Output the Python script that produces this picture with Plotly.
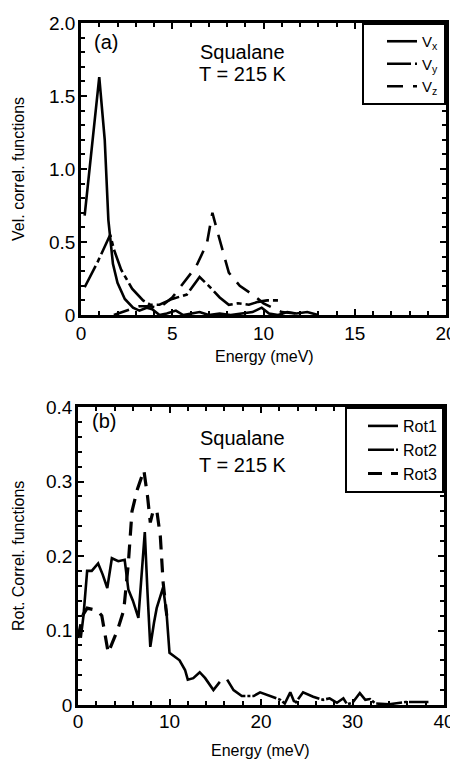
import plotly.graph_objects as go

# (a) velocity correlation functions, energy in meV
VX_E = [0.2, 0.6, 1.0, 1.3, 1.5, 1.75, 2.0, 2.4, 2.85, 3.2, 3.6, 3.9, 4.3, 4.7, 5.2, 5.6, 6.0, 6.5, 7.0,
        7.6, 8.2, 8.8, 9.4, 9.9, 10.3, 10.8, 11.3, 11.8, 12.4, 13.0]
VX = [0.68, 1.15, 1.63, 1.2, 0.65, 0.35, 0.22, 0.11, 0.05, 0.03, 0.05, 0.04, 0.0, 0.01, 0.03, 0.0, 0.01,
      0.02, 0.0, 0.01, 0.0, 0.01, 0.02, 0.05, 0.01, 0.0, 0.02, 0.01, 0.02, 0.0]
VY_E = [0.2, 0.9, 1.6, 1.8, 2.2, 2.8, 3.4, 3.8, 4.3, 5.0, 5.8, 6.5, 7.0, 7.6, 8.1, 8.6, 9.2, 9.7, 10.2, 10.8]
VY = [0.19, 0.36, 0.55, 0.45, 0.31, 0.18, 0.10, 0.07, 0.07, 0.11, 0.14, 0.26, 0.20, 0.12, 0.07, 0.08,
      0.07, 0.09, 0.10, 0.10]
VZ_E = [1.8, 2.5, 3.2, 3.7, 4.3, 5.0, 5.7, 6.3, 6.9, 7.2, 7.5, 8.1, 8.7, 9.4, 10.0, 10.5, 11.0, 11.8]
VZ = [0.0, 0.03, 0.06, 0.06, 0.05, 0.12, 0.23, 0.33, 0.49, 0.70, 0.56, 0.29, 0.20, 0.14, 0.08, 0.05, 0.02, 0.01]

# (b) rotational correlation functions
ROT1_E = [0.3, 0.6, 1.0, 1.5, 2.2, 2.7, 3.2, 3.7, 4.4, 5.1, 5.5, 6.0, 6.6, 7.0, 7.3, 7.6, 7.9, 8.3, 8.6,
          9.3, 9.7, 10.0, 10.6, 11.1, 11.7, 12.0, 12.6, 13.3, 13.9, 14.8, 15.5]
ROT1 = [0.09, 0.12, 0.18, 0.18, 0.19, 0.175, 0.157, 0.197, 0.193, 0.195, 0.155, 0.14, 0.117, 0.18, 0.232,
        0.15, 0.078, 0.11, 0.13, 0.158, 0.12, 0.07, 0.064, 0.06, 0.047, 0.034, 0.036, 0.044, 0.036, 0.02, 0.031]
ROT2_E = [16.3, 17.0, 17.9, 18.5, 19.2, 19.9, 21.0, 22.1, 22.6, 23.2, 23.7, 24.6, 25.7, 26.8, 27.5, 28.3,
          29.0, 29.4, 30.0, 30.8, 31.4, 31.9, 32.5, 34.0, 35.8, 37.0, 38.3]
ROT2 = [0.034, 0.02, 0.012, 0.012, 0.012, 0.017, 0.012, 0.007, 0.002, 0.017, 0.002, 0.017, 0.011, 0.007,
        0.009, 0.003, 0.009, 0.001, 0.003, 0.016, 0.007, 0.008, 0.002, 0.001, 0.004, 0.004, 0.004]
ROT3_E = [0.0, 0.5, 1.0, 1.6, 2.1, 2.6, 3.0, 3.3, 3.8, 4.3, 5.0, 5.5, 5.9, 6.5, 7.2, 7.6, 7.9, 8.2, 8.6,
          9.0, 9.3, 9.7]
ROT3 = [0.09, 0.12, 0.13, 0.128, 0.127, 0.12, 0.09, 0.07, 0.085, 0.10, 0.127, 0.19, 0.26, 0.29, 0.315,
        0.28, 0.245, 0.26, 0.262, 0.226, 0.165, 0.12]

A_XTICKS = [0, 5, 10, 15, 20]
A_YTICKS = [0, 0.5, 1.0, 1.5, 2.0]
A_YTEXT = ["0", "0.5", "1.0", "1.5", "2.0"]
B_XTICKS = [0, 10, 20, 30, 40]
B_YTICKS = [0, 0.1, 0.2, 0.3, 0.4]
B_YTEXT = ["0", "0.1", "0.2", "0.3", "0.4"]

FONT = "Liberation Sans, Arial, sans-serif"
LW = 2.6
# the page body adds an 8px margin, so the figure is laid out 8px smaller
W, H = 450, 752

fig = go.Figure()
# panel (a)
fig.add_trace(go.Scatter(x=VX_E, y=VX, mode="lines", name="V<sub>x</sub>",
                         line=dict(color="black", width=LW), xaxis="x", yaxis="y", legend="legend"))
fig.add_trace(go.Scatter(x=VY_E, y=VY, mode="lines", name="V<sub>y</sub>",
                         line=dict(color="black", width=LW, dash="24px,4px,5px,4px"),
                         xaxis="x", yaxis="y", legend="legend"))
fig.add_trace(go.Scatter(x=VZ_E, y=VZ, mode="lines", name="V<sub>z</sub>",
                         line=dict(color="black", width=LW, dash="16px,10px"),
                         xaxis="x", yaxis="y", legend="legend"))
# panel (b)
fig.add_trace(go.Scatter(x=ROT1_E, y=ROT1, mode="lines", name="Rot1",
                         line=dict(color="black", width=LW), xaxis="x2", yaxis="y2", legend="legend2"))
fig.add_trace(go.Scatter(x=ROT2_E, y=ROT2, mode="lines", name="Rot2",
                         line=dict(color="black", width=LW, dash="26px,2px,3px,2px"),
                         xaxis="x2", yaxis="y2", legend="legend2"))
fig.add_trace(go.Scatter(x=ROT3_E, y=ROT3, mode="lines", name="Rot3",
                         line=dict(color="black", width=LW + 0.6, dash="14px,9px"),
                         xaxis="x2", yaxis="y2", legend="legend2"))


def axis(domain, rng, tickvals, ticktext, minor, anchor, standoff):
    return dict(domain=domain, range=rng, anchor=anchor, automargin=False,
                tickvals=tickvals, ticktext=ticktext, ticklabelstandoff=standoff,
                ticks="inside", ticklen=6, tickwidth=2, tickcolor="black",
                minor=dict(ticks="inside", dtick=minor, ticklen=4, tickwidth=1.5, tickcolor="black"),
                showline=True, linewidth=2.5, linecolor="black", mirror="ticks",
                showgrid=False, zeroline=False,
                tickfont=dict(family=FONT, size=19, color="black"))


fig.update_layout(
    width=W, height=H,
    margin=dict(l=0, r=0, t=0, b=0),
    paper_bgcolor="white", plot_bgcolor="white",
    xaxis=axis([73 / W, 438 / W], [0, 20], A_XTICKS, [str(v) for v in A_XTICKS], 1, "y", -1),
    yaxis=axis([1 - 307 / H, 1 - 15 / H], [0, 2], A_YTICKS, A_YTEXT, 0.1, "x", -1),
    xaxis2=axis([70 / W, 436 / W], [0, 40], B_XTICKS, [str(v) for v in B_XTICKS], 2, "y2", -3),
    yaxis2=axis([1 - 697 / H, 1 - 399 / H], [0, 0.4], B_YTICKS, B_YTEXT, 0.02, "x2", -1),
    legend=dict(x=438 / W, y=1 - 15 / H, xanchor="right", yanchor="top", indentation=18,
                bordercolor="black", borderwidth=2, bgcolor="white",
                font=dict(family=FONT, size=15, color="black"), tracegroupgap=0),
    legend2=dict(x=436 / W, y=1 - 399 / H, xanchor="right", yanchor="top", indentation=16,
                 bordercolor="black", borderwidth=2, bgcolor="white",
                 font=dict(family=FONT, size=16, color="black"), tracegroupgap=0),
    showlegend=True,
)

# axis titles
TITLE = dict(family=FONT, size=16, color="black")
for text, x, y, angle in [
    ("Energy (meV)", 256, 348, 0),
    ("Vel. correl. functions", 10, 161, -90),
    ("Energy (meV)", 252, 742, 0),
    ("Rot. Correl. functions", 10, 548, -90),
]:
    fig.add_annotation(text=text, x=x / W, y=1 - y / H, xref="paper", yref="paper",
                       xanchor="center", yanchor="middle", textangle=angle,
                       showarrow=False, font=TITLE)

TXT = dict(family=FONT, size=20, color="black")
for text, x, y, xref, yref, xa in [
    ("(a)", 0.6, 1.87, "x", "y", "left"),
    ("Squalane", 8.85, 1.80, "x", "y", "center"),
    ("T = 215 K", 8.85, 1.65, "x", "y", "center"),
    ("(b)", 1.3, 0.381, "x2", "y2", "left"),
    ("Squalane", 18.0, 0.358, "x2", "y2", "center"),
    ("T = 215 K", 18.0, 0.322, "x2", "y2", "center"),
]:
    fig.add_annotation(text=text, x=x, y=y, xref=xref, yref=yref, xanchor=xa,
                       showarrow=False, font=TXT)

fig.write_html("out.html")
